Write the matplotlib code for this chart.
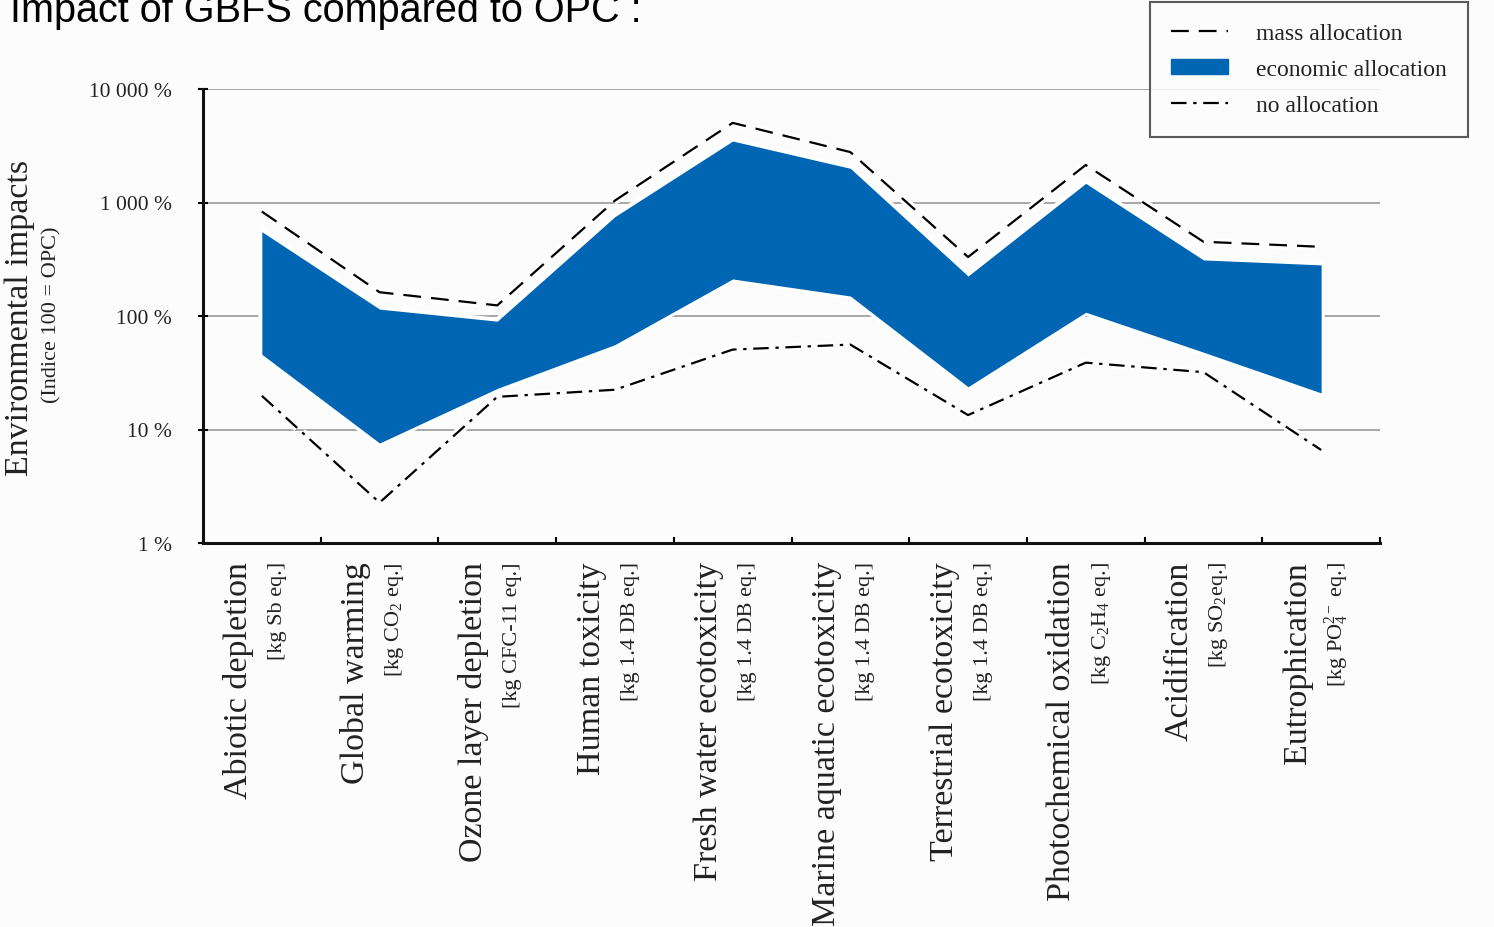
import matplotlib
matplotlib.use("Agg")
import matplotlib.pyplot as plt
import matplotlib.patheffects as pe
from matplotlib.lines import Line2D
from matplotlib.patches import Patch
import numpy as np

plt.rcParams["font.family"] = "Liberation Serif"
plt.rcParams["mathtext.fontset"] = "custom"
plt.rcParams["mathtext.rm"] = "Liberation Serif"
plt.rcParams["mathtext.it"] = "Liberation Serif:italic"

categories = ["Abiotic depletion", "Global warming", "Ozone layer depletion",
              "Human toxicity", "Fresh water ecotoxicity", "Marine aquatic ecotoxicity",
              "Terrestrial ecotoxicity", "Photochemical oxidation", "Acidification",
              "Eutrophication"]
units = ["[kg Sb eq.]", "[kg CO$_2$ eq.]", "[kg CFC-11 eq.]", "[kg 1.4 DB eq.]",
         "[kg 1.4 DB eq.]", "[kg 1.4 DB eq.]", "[kg 1.4 DB eq.]",
         "[kg C$_2$H$_4$ eq.]", "[kg SO$_2$eq.]", "[kg PO$_4^{2-}$ eq.]"]

# impacts in % of OPC (100 = OPC)
mass_alloc = [832, 162, 124, 1040, 5030, 2780, 331, 2140, 451, 407]
econ_high = [553, 115, 90, 751, 3480, 2000, 225, 1475, 312, 282]
econ_low = [46, 7.6, 23, 56, 212, 150, 23.8, 108, 48, 21]
no_alloc = [19.8, 2.27, 19.4, 22.4, 50.6, 56, 13.4, 38.8, 32, 6.6]

yticks = [1, 10, 100, 1000, 10000]
yticklabels = ["1 %", "10 %", "100 %", "1 000 %", "10 000 %"]

blue = "#0066b3"
W, H = 1494, 928

fig = plt.figure(figsize=(W / 100, H / 100), dpi=100, facecolor="#fcfcfc")
ax = fig.add_axes([203 / W, 1 - 544 / H, (1380 - 203) / W, (544 - 90) / H])
ax.set_facecolor("#fcfcfc")

x = np.arange(len(categories))
halo = [pe.withStroke(linewidth=6, foreground="white")]

# white rim round the band, then the band itself
ax.fill_between(x, econ_low, econ_high, facecolor="none", edgecolor="white", lw=5, zorder=2)
ax.fill_between(x, econ_low, econ_high, color=blue, lw=0, zorder=3)

ax.plot(x, mass_alloc, color="black", lw=1.6, dashes=(8, 4.5), zorder=4, path_effects=halo)
ax.plot(x, no_alloc, color="black", lw=1.6, dashes=(7, 3, 1.5, 3), zorder=4, path_effects=halo)

ax.set_yscale("log")
ax.set_ylim(1, 10000)
ax.set_xlim(-0.5, len(categories) - 0.5)
ax.set_yticks(yticks)
ax.set_yticklabels(yticklabels, fontsize=15.5, color="#222222")
ax.yaxis.set_minor_locator(matplotlib.ticker.NullLocator())
ax.tick_params(axis="y", direction="inout", length=7, width=1.5, pad=19)

ax.set_xticks(np.arange(len(categories) + 1) - 0.5)
ax.set_xticklabels([])
ax.tick_params(axis="x", direction="in", length=4, width=1.5)

for v in yticks[1:]:
    ax.axhline(v, color="#999999", lw=1.2, zorder=1)

for side in ["top", "right"]:
    ax.spines[side].set_visible(False)
for side in ["left", "bottom"]:
    ax.spines[side].set_linewidth(2.2)
    ax.spines[side].set_color("#111111")

# category names with their units beside them
for i, (name, unit) in enumerate(zip(categories, units)):
    ax.annotate(name, xy=(i, 0), xycoords=("data", "axes fraction"),
                xytext=(-17, -13), textcoords="offset points",
                rotation=90, ha="center", va="top", fontsize=24.5, color="#222222")
    ax.annotate(unit, xy=(i, 0), xycoords=("data", "axes fraction"),
                xytext=(11, -13), textcoords="offset points",
                rotation=90, ha="center", va="top", fontsize=16, color="#222222")

fig.text(20 / W, 1 - 318 / H, "Environmental impacts", rotation=90,
         ha="center", va="center", fontsize=24.5, color="#222222")
fig.text(52 / W, 1 - 315 / H, "(Indice 100 = OPC)", rotation=90,
         ha="center", va="center", fontsize=16, color="#222222")

fig.text(10 / W, 1 - 22 / H, "Impact of GBFS compared to OPC :",
         family="Liberation Sans", fontsize=28.5,
         ha="left", va="baseline", color="black")

handles = [
    Line2D([], [], color="black", lw=1.6, dashes=(8, 4.5)),
    Patch(facecolor=blue, edgecolor=blue),
    Line2D([], [], color="black", lw=1.6, dashes=(7, 3, 1.5, 3)),
]
labels = ["mass allocation", "economic allocation", "no allocation"]
leg = fig.legend(handles, labels, loc="upper left", bbox_to_anchor=(1150 / W, 1 - 3 / H),
                 fontsize=17, frameon=True, fancybox=False, handlelength=2.4,
                 handleheight=0.6, handletextpad=1.2, borderpad=0.9, labelspacing=0.62,
                 borderaxespad=0)
leg.get_frame().set_edgecolor("#333333")
leg.get_frame().set_linewidth(1.5)
leg.get_frame().set_facecolor("#fcfcfc")
for t in leg.get_texts():
    t.set_color("#222222")

fig.savefig("out.png", dpi=100, facecolor=fig.get_facecolor())
